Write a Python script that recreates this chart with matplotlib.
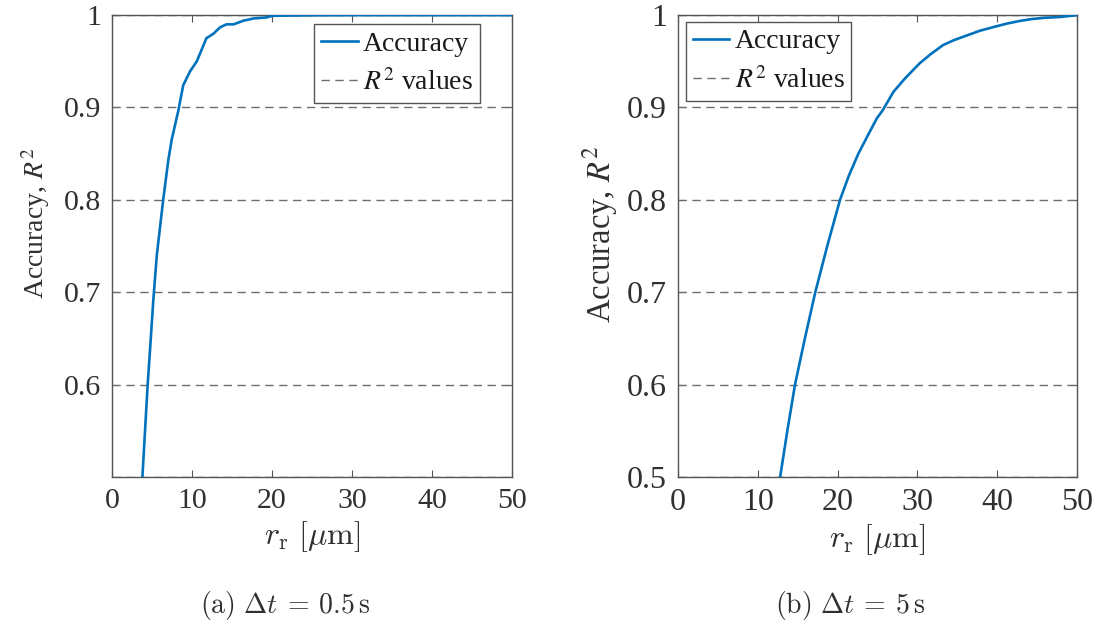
import matplotlib
matplotlib.use('Agg')
import matplotlib.pyplot as plt

plt.rcParams['font.family'] = ['Liberation Serif', 'DejaVu Serif']
plt.rcParams['mathtext.fontset'] = 'stix'

# accuracy vs r_r, dt = 0.5 s
r_a = [3.8, 4.46, 4.75, 5.17, 5.6, 6.4, 7.04, 7.46, 8.3, 8.9, 9.75, 10.6, 11.8, 12.7,
       13.5, 14.3, 15.2, 16.4, 17.7, 19.3, 20.1, 25, 30, 40, 50]
acc_a = [0.50, 0.60, 0.637, 0.692, 0.74, 0.80, 0.843, 0.865, 0.897, 0.924, 0.939, 0.950,
         0.975, 0.980, 0.9867, 0.990, 0.990, 0.9939, 0.9964, 0.9975, 0.9993, 0.9998,
         1.0, 1.0, 1.0]

# accuracy vs r_r, dt = 5 s
r_b = [12.8, 13.7, 14.66, 15.9, 17.2, 18.7, 20.3, 21.4, 22.6, 23.8, 24.9, 25.65, 27.0,
       28.45, 30.3, 31.7, 33.2, 34.6, 36.2, 37.8, 39.5, 41.2, 42.9, 44.3, 45.8, 47.9, 50]
acc_b = [0.50, 0.55, 0.60, 0.65, 0.70, 0.75, 0.80, 0.826, 0.85, 0.870, 0.888, 0.897, 0.917,
         0.9315, 0.948, 0.958, 0.9675, 0.973, 0.978, 0.983, 0.987, 0.9908, 0.9938, 0.9957,
         0.997, 0.998, 1.0]

r2_values = [0.5, 0.6, 0.7, 0.8, 0.9, 1.0]
captions = [r'$\mathrm{(a)}\ \Delta t\:=\:0.5\,\mathrm{s}$',
            r'$\mathrm{(b)}\ \Delta t\:=\:5\,\mathrm{s}$']

blue = '#0072BD'
gray = '#6e6e6e'
txt = '#303030'

fig = plt.figure(figsize=(10.98, 6.30), dpi=100)
ax1 = fig.add_axes([0.102, 0.243, 0.3643, 0.733])
ax2 = fig.add_axes([0.6175, 0.243, 0.3634, 0.733])

panels = [
    # ax, x, y, yticks, legend anchor, tick size, ylabel size, ylabel coords, caption x
    (ax1, r_a, acc_a, [0.6, 0.7, 0.8, 0.9, 1.0], ('upper right', (0.92, 0.9805)), 21.5, 20,
     (-0.15, 0.55), 285),
    (ax2, r_b, acc_b, [0.5, 0.6, 0.7, 0.8, 0.9, 1.0], ('upper left', (0.02, 0.985)), 23, 23.5,
     (-0.145, 0.526), 850),
]

for i, (ax, r, acc, yt, leg_pos, tsize, lsize, lcoords, cap_x) in enumerate(panels):
    ax.plot(r, acc, color=blue, lw=1.9, label='Accuracy', zorder=3)
    for j, v in enumerate(r2_values):
        ax.axhline(v, color=gray, lw=1, dashes=(6, 4), zorder=2,
                   label=r'$R^2$ values' if j == 0 else None)
    ax.set_xlim(0, 50)
    ax.set_ylim(0.5, 1.0)
    ax.set_xticks([0, 10, 20, 30, 40, 50])
    ax.set_yticks(yt)
    ax.set_yticklabels(['%g' % v for v in yt])
    ax.tick_params(direction='in', top=True, right=True, labelsize=tsize,
                   colors=txt, color='#555555', length=5, pad=8)
    for s in ax.spines.values():
        s.set_color('#555555')
        s.set_linewidth(1)
    ax.set_ylabel(r'Accuracy, $R^2$', fontsize=lsize, color=txt)
    ax.yaxis.set_label_coords(*lcoords)
    ax.set_xlabel(r'$r_{\rm r}\ [\mu{\rm m}]$', fontsize=23, color=txt, labelpad=4,
                  math_fontfamily='cm')
    leg = ax.legend(loc=leg_pos[0], bbox_to_anchor=leg_pos[1], borderaxespad=0,
                    fontsize=20, frameon=True, fancybox=False, framealpha=1,
                    handlelength=1.3, handletextpad=0.2, borderpad=0.25,
                    labelspacing=0.45)
    leg.get_frame().set_edgecolor('#555555')
    leg.get_frame().set_linewidth(1)
    for t in leg.get_texts():
        t.set_color('#1a1a1a')
    fig.text(cap_x / 1098, 1 - 605 / 630, captions[i], fontsize=20,
             ha='center', va='center', color=txt, math_fontfamily='cm')

fig.savefig('out.png', dpi=100)
